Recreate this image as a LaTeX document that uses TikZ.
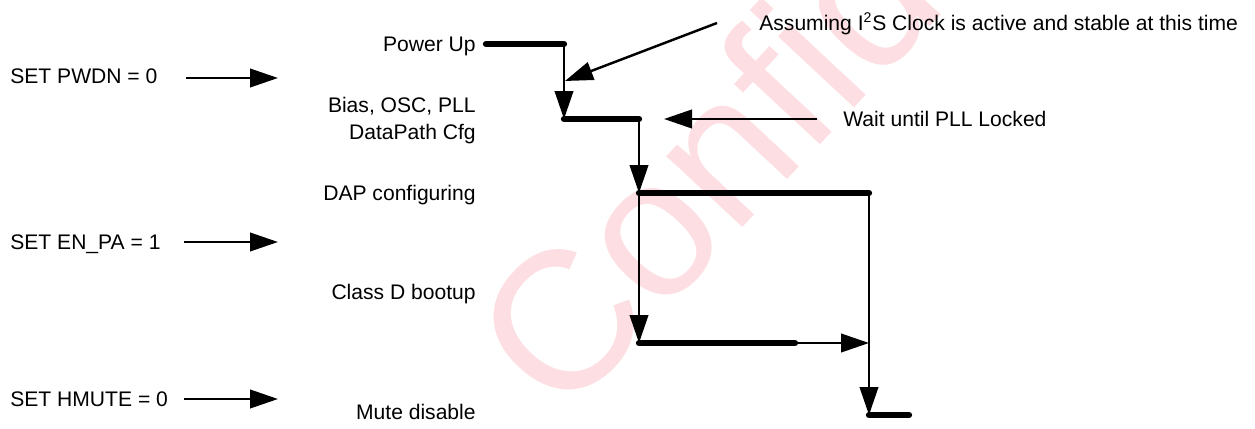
\documentclass[tikz,border=0pt]{standalone}
\usepackage{fontspec}
\setmainfont{Liberation Sans}
\usetikzlibrary{arrows.meta,positioning}
\definecolor{wmark}{RGB}{253,222,226}
\tikzset{
  lbl/.style={inner sep=0pt, font=\fontsize{12}{15.4}\selectfont},
  flow/.style={line width=1.4pt, -{Triangle[length=0.56cm,width=0.37cm]}},
  busy/.style={line width=3.6pt, line cap=round},
}

\begin{document}
\begin{tikzpicture}[x=0.02cm, y=-0.02cm]
    \useasboundingbox (0,0) rectangle (1255,429);
    \begin{scope}
        \clip (0,0) rectangle (1255,429);
        \node[inner sep=0pt, anchor=base west, rotate=47, text=wmark,
              font=\fontsize{112}{112}\selectfont] (wm) at (562,422) {Confidential};
    \end{scope}

    \node[lbl, anchor=mid west] (pwdn) at (10,79) {SET PWDN = 0};
    \node[lbl, anchor=mid west] (enpa) at (10,245) {SET EN\_PA = 1};
    \node[lbl, anchor=mid west] (hmute) at (10,402) {SET HMUTE = 0};

    \coordinate (pwdnA) at (186,78);  \coordinate (pwdnB) at (278,78);
    \coordinate (enpaA) at (184,242); \coordinate (enpaB) at (278,242);
    \coordinate (hmuteA) at (184,399); \coordinate (hmuteB) at (278,399);
    \draw[flow] (pwdnA) -- (pwdnB);
    \draw[flow] (enpaA) -- (enpaB);
    \draw[flow] (hmuteA) -- (hmuteB);

    \node[lbl, anchor=mid east] (pwrup) at (476,47) {Power Up};
    \node[lbl, anchor=east, align=right] (bias) at (476,121) {Bias, OSC, PLL\\DataPath Cfg};
    \node[lbl, anchor=mid east] (dap) at (476,196) {DAP configuring};
    \node[lbl, anchor=mid east] (classd) at (476,295) {Class D bootup};
    \node[lbl, anchor=mid east] (mute) at (476,415) {Mute disable};

    \node[lbl, anchor=mid west] (clk) at (759,26) {Assuming I\textsuperscript{2}S Clock is active and stable at this time};
    \node[lbl, anchor=mid west] (lock) at (843,122) {Wait until PLL Locked};

    \coordinate (s1a) at (486,44);  \coordinate (s1b) at (564,44);
    \coordinate (s2a) at (564,119); \coordinate (s2b) at (639,119);
    \coordinate (s3a) at (639,193); \coordinate (s3b) at (869,193);
    \coordinate (s4a) at (639,343); \coordinate (s4b) at (795,343);
    \coordinate (s5a) at (869,415); \coordinate (s5b) at (909,415);
    \coordinate (join) at (869,343);

    \draw[busy] (s1a) -- (s1b);
    \draw[busy] (s2a) -- (s2b);
    \draw[busy] (s3a) -- (s3b);
    \draw[busy] (s4a) -- (s4b);
    \draw[busy] (s5a) -- (s5b);

    \draw[flow] (s1b) -- (s2a);
    \draw[flow] (s2b) -- (s3a);
    \draw[flow] (s3a) -- (s4a);
    \draw[flow] (s3b) -- (s5a);
    \draw[flow] (s4b) -- (join);

    \coordinate (clkA) at (717,23);  \coordinate (clkB) at (565,81);
    \coordinate (lockA) at (817,119); \coordinate (lockB) at (664,119);
    \draw[flow] (clkA) -- (clkB);
    \draw[flow] (lockA) -- (lockB);
\end{tikzpicture}
\end{document}
